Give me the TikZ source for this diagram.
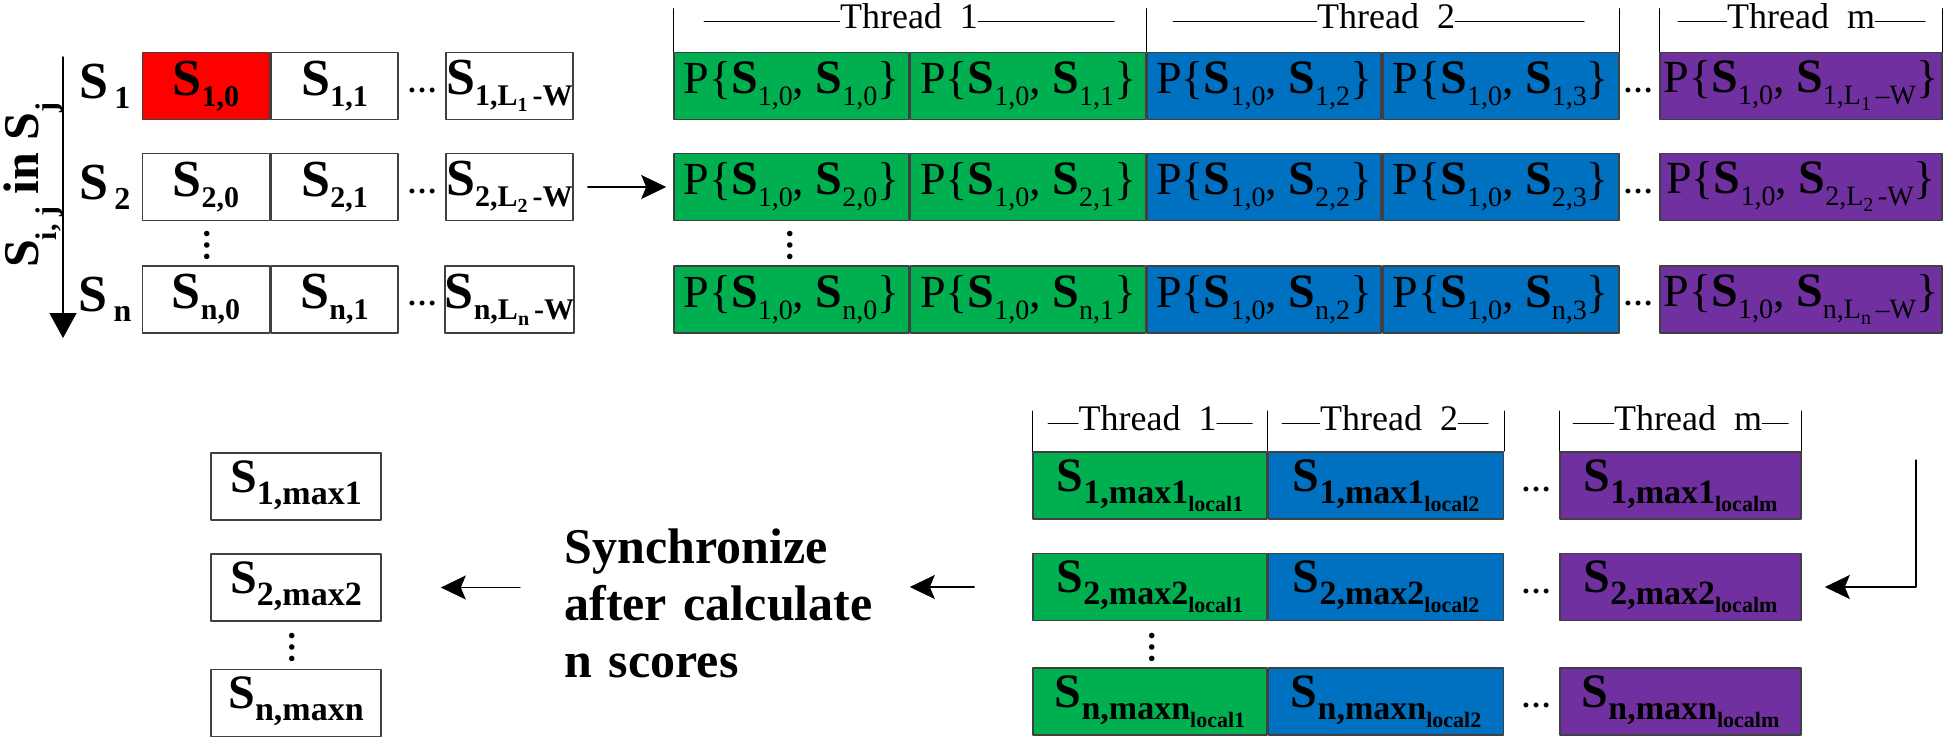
\documentclass[tikz,border=0pt]{standalone}
\usepackage{fontspec}
\setmainfont{Liberation Serif}
\usetikzlibrary{arrows.meta,positioning}

\definecolor{cred}{RGB}{255,0,0}
\definecolor{cgreen}{RGB}{0,176,80}
\definecolor{cblue}{RGB}{0,112,192}
\definecolor{cpurple}{RGB}{112,48,160}

\newcommand\fsz[1]{\fontsize{#1}{#1}\selectfont}
\newcommand\subsub[1]{\raisebox{-3pt}{\fsz{10}#1}}
\newcommand\cellS[1]{{\fsz{26}\bfseries S}\raisebox{-5.5pt}{\fsz{15}\bfseries #1}}
\newcommand\pairP[2]{{\fsz{23}P\{}{\fsz{24}\bfseries S}\raisebox{-6pt}{\fsz{14}#1}{\fsz{23}, }{\fsz{24}\bfseries S}\raisebox{-6pt}{\fsz{14}#2}{\fsz{23}\}}}
\newcommand\maxS[2]{{\fsz{24}\bfseries S}\raisebox{-6pt}{\fsz{17}\bfseries #1\raisebox{-4pt}{\fsz{11}#2}}}

\begin{document}
\begin{tikzpicture}[x=0.5pt,y=-0.5pt,>=Stealth,line join=round,line cap=round,
  cell/.style={draw=black!75,line width=0.8pt,minimum height=33.5pt,minimum width=#1,inner sep=0pt},
  cell/.default=63.5pt,
  arr/.style={-{Stealth[length=12.5pt,width=12pt,inset=2.5pt]},line width=0.6pt},
  hdots/.style={anchor=base,inner sep=0pt,font=\fsz{15}\bfseries},
  vdots/.style={rotate=90,anchor=base,inner sep=0pt,font=\fsz{17}\bfseries},
  thr/.style={inner sep=0pt,font=\fsz{18}},
  brk/.style={line width=0.5pt}]
  \useasboundingbox (0,0) rectangle (1946,740);

  % sequences S_1 .. S_n
  \coordinate (ytop) at (63,57);
  \coordinate (ybot) at (63,338);
  \draw[line width=0.7pt,-{Triangle[length=12.5pt,width=13.5pt]}] (ytop) -- (ybot);
  \node[rotate=90,anchor=north,inner sep=0pt,font=\bfseries] (seqlab) at (3,185)
    {{\fsz{25}S}\raisebox{-9pt}{\fsz{15}i, j}{\fsz{25} in S}\raisebox{-9pt}{\fsz{15}j}};
  \foreach \rw/\y/\fc in {1/86/cred, 2/187/white, n/299.5/white}{
    \node[font=\bfseries] (lab\rw) at (105,\y) {{\fsz{26}S}\hspace{3pt}\raisebox{-5pt}{\fsz{16}\rw}};
    \node[cell,fill=\fc] (s\rw0) at (206,\y) {\cellS{\rw,0}};
    \node[cell,right=0pt of s\rw0] (s\rw1) {\cellS{\rw,1}};
    \node[hdots] (sd\rw) at (422,\y+6) {…};
    \node[cell] (s\rw2) at (509.5,\y) {\cellS{\rw,L\subsub{\rw}\,-W}};
  }
  \node[vdots] (sv) at (209,245) {…};

  % pair scores, one thread per block
  \foreach \rw/\y/\dsh in {1/86/--, 2/187/-, n/299.5/--}{
    \node[cell=117.5pt,fill=cgreen] (p\rw0) at (791.5,\y) {\pairP{1,0}{\rw,0}};
    \node[cell=117.5pt,fill=cgreen,right=0pt of p\rw0] (p\rw1) {\pairP{1,0}{\rw,1}};
    \node[cell=117pt,fill=cblue,right=0pt of p\rw1] (p\rw2) {\pairP{1,0}{\rw,2}};
    \node[cell=118pt,fill=cblue,right=0pt of p\rw2] (p\rw3) {\pairP{1,0}{\rw,3}};
    \node[hdots] (pd\rw) at (1638,\y+6) {…};
    \node[cell=141pt,fill=cpurple] (p\rw4) at (1801,\y) {\pairP{1,0}{\rw,L\subsub{\rw}\,\dsh W}};
  }
  \node[vdots] (pv) at (792,245) {…};

  \node[thr] (t1) at (909,16) {Thread\hspace{.5em}1};
  \node[thr] (t2) at (1386,16) {Thread\hspace{.5em}2};
  \node[thr] (tm) at (1801,16) {Thread\hspace{.5em}m};
  \draw[brk] (p10.north west) -- ++(0,-43) (p12.north west) -- ++(0,-43) (p13.north east) -- ++(0,-43)
    (p14.north west) -- ++(0,-43) (p14.north east) -- ++(0,-43);
  \draw[brk] (704,21) -- ([yshift=-2.5pt]t1.west) ([yshift=-2.5pt]t1.east) -- (1114,21)
    (1173,21) -- ([yshift=-2.5pt]t2.west) ([yshift=-2.5pt]t2.east) -- (1584,21)
    (1678,21) -- ([yshift=-2.5pt]tm.west) ([yshift=-2.5pt]tm.east) -- (1925,21);

  \draw[arr,shorten <=7pt,shorten >=3.5pt] (s22.east) -- (p20.west);

  % local maxima per thread
  \foreach \rw/\y/\mx in {1/485.5/max1, 2/587/max2, n/701.5/maxn}{
    \node[cell=117pt,fill=cgreen] (q\rw1) at (1150,\y) {\maxS{\rw,\mx}{local1}};
    \node[cell=117.5pt,fill=cblue,right=0pt of q\rw1] (q\rw2) {\maxS{\rw,\mx}{local2}};
    \node[hdots] (qd\rw) at (1536,\y+6) {…};
    \node[cell=120.5pt,fill=cpurple] (q\rw3) at (1680.5,\y) {\maxS{\rw,\mx}{localm}};
  }
  \node[vdots] (qv) at (1154,647) {…};

  \node[thr] (u1) at (1147.5,418) {Thread\hspace{.5em}1};
  \node[thr] (u2) at (1389,418) {Thread\hspace{.5em}2};
  \node[thr] (um) at (1688,418) {Thread\hspace{.5em}m};
  \draw[brk] (q11.north west) -- ++(0,-40) (q12.north west) -- ++(0,-40) (q12.north east) -- ++(0,-40)
    (q13.north west) -- ++(0,-40) (q13.north east) -- ++(0,-40);
  \draw[brk] (1048,423) -- ([yshift=-2.5pt]u1.west) ([yshift=-2.5pt]u1.east) -- (1252,423)
    (1282,423) -- ([yshift=-2.5pt]u2.west) ([yshift=-2.5pt]u2.east) -- (1488,423)
    (1573,423) -- ([yshift=-2.5pt]um.west) ([yshift=-2.5pt]um.east) -- (1788,423);

  % final maxima
  \foreach \rw/\y/\mx in {1/486.5/max1, 2/587.5/max2, n/703/maxn}{
    \node[cell=85pt] (o\rw) at (296,\y) {\maxS{\rw,\mx}{}};
  }
  \node[vdots] (ov) at (294,647) {…};

  \node[anchor=west,inner sep=0pt,text width=155pt,align=left,
    font=\fontsize{25}{28.5}\selectfont\bfseries] (sync) at (564,603) {Synchronize\\after calculate\\n scores};

  \coordinate (qdrop) at (1916,460);
  \draw[arr,shorten >=11.5pt] (qdrop) |- (q23.east);
  \draw[arr,shorten <=29pt,shorten >=17.5pt] (q21.west) -- (sync.east |- q21.west);
  \draw[arr,shorten <=22pt,shorten >=29.5pt] (sync.west |- o2.east) -- (o2.east);
\end{tikzpicture}
\end{document}
